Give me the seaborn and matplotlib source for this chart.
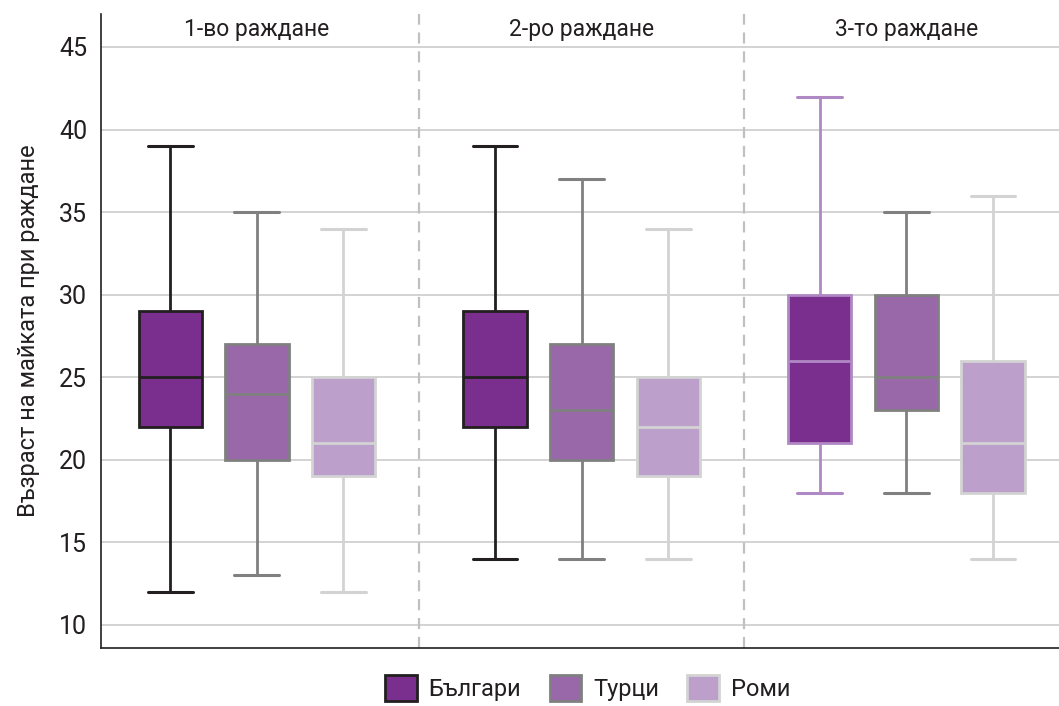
import matplotlib
matplotlib.use("Agg")
import matplotlib.pyplot as plt
import matplotlib.transforms as mtransforms
from matplotlib.patches import Patch
import pandas as pd
import seaborn as sns

# Birth order panels and ethnic groups
births = ["1-во раждане", "2-ро раждане", "3-то раждане"]
groups = ["Българи", "Турци", "Роми"]

# Five-number summaries per birth order: min, Q1, median, Q3, max
bulgarians = [[12, 22, 25, 29, 39], [14, 22, 25, 29, 39], [18, 21, 26, 30, 42]]
turks = [[13, 20, 24, 27, 35], [14, 20, 23, 27, 37], [18, 23, 25, 30, 35]]
roma = [[12, 19, 21, 25, 34], [14, 19, 22, 25, 34], [14, 18, 21, 26, 36]]

y_ticks = [10, 15, 20, 25, 30, 35, 40, 45]
y_label = "Възраст на майката при раждане"

fills = ["#7a2e8e", "#9868a8", "#bc9fcb"]
edges = ["#231f20", "#808080", "#d3d3d3"]
third_bulgarian_edge = "#b088c4"

# Long-form table; five values per box reproduce the summary exactly
rows = []
for grp, stats in zip(groups, [bulgarians, turks, roma]):
    for birth, five in zip(births, stats):
        for v in five:
            rows.append({"birth": birth, "group": grp, "age": v})
df = pd.DataFrame(rows)

sns.set_style("white")
plt.rcParams["font.family"] = ["Roboto", "DejaVu Sans"]

fig = plt.figure(figsize=(10.59, 7.06), dpi=100)
ax = fig.add_axes([0.0954, 0.0822, 0.9046, 0.898])

LW = 2.0
sns.boxplot(
    data=df, x="birth", y="age", hue="group",
    order=births, hue_order=groups, palette=fills,
    width=0.8, gap=0.27, whis=(0, 100), saturation=1,
    linewidth=LW, legend=False, ax=ax, zorder=3,
)

cap_half = 0.069
for gi, cont in enumerate(ax.containers):
    for bi in range(len(births)):
        color = edges[gi]
        if gi == 0 and bi == 2:
            color = third_bulgarian_edge
        box = cont.boxes[bi]
        box.set_edgecolor(color)
        box.set_facecolor(fills[gi])
        box.set_linewidth(LW)
        cont.medians[bi].set_color(color)
        cont.medians[bi].set_linewidth(LW)
        for ln in cont.whiskers[2 * bi:2 * bi + 2]:
            ln.set_color(color)
            ln.set_linewidth(LW)
        for ln in cont.caps[2 * bi:2 * bi + 2]:
            ln.set_color(color)
            ln.set_linewidth(LW + 0.2)
            xd = ln.get_xdata()
            c = (xd[0] + xd[1]) / 2
            ln.set_xdata([c - cap_half, c + cap_half])

ax.set_xlim(-0.48, 2.47)
ax.set_ylim(8.6, 47.0)
ax.set_yticks(y_ticks)
ax.set_xticks([])
ax.set_xlabel("")
ax.set_ylabel(y_label, fontsize=17, color="#231f20", labelpad=14)
ax.tick_params(axis="y", length=0, pad=10, labelsize=18, labelcolor="#231f20")

ax.yaxis.grid(True, color="#c8c8c8", linewidth=1.1, zorder=0)
ax.set_axisbelow(True)

for side in ["top", "right"]:
    ax.spines[side].set_visible(False)
for side in ["left", "bottom"]:
    ax.spines[side].set_color("#231f20")
    ax.spines[side].set_linewidth(1.2)

# Dashed separators between birth-order panels
for xv in [0.5, 1.5]:
    ax.axvline(xv, color="#c0c0c0", linewidth=1.6, linestyle=(0, (5, 3.5)), zorder=1)

# Panel titles
trans = mtransforms.blended_transform_factory(ax.transData, ax.transAxes)
for i, b in enumerate(births):
    ax.text(i, 0.975, b, transform=trans, ha="center", va="center",
            fontsize=16.5, color="#231f20")

handles = [Patch(facecolor=f, edgecolor=e, linewidth=LW) for f, e in zip(fills, edges)]
ax.legend(handles, groups, loc="center", bbox_to_anchor=(0.508, -0.063),
          ncol=3, frameon=False, fontsize=17, handlelength=1.35, handleheight=1.35,
          handletextpad=0.5, columnspacing=1.2, labelcolor="#231f20")

fig.savefig("out.png", dpi=100)
